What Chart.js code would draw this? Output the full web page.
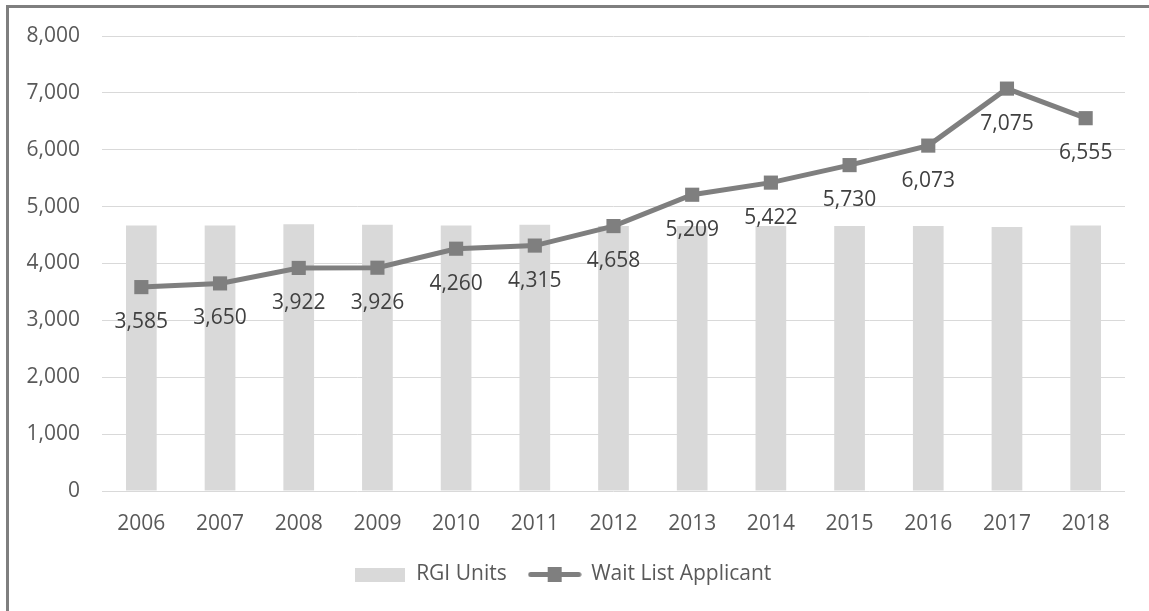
<!DOCTYPE html>
<html>
<head>
<meta charset="utf-8">
<script src="https://cdn.jsdelivr.net/npm/chart.js@4.4.1/dist/chart.umd.min.js"></script>
<style>
  body { margin: 0; background: #fff; }
  #wrap { position: relative; width: 1149px; height: 611px; }
  #frame { position: absolute; left: 6px; top: 5px; right: 0; bottom: 0;
           border-left: 3px solid #7f7f7f; border-top: 3px solid #7f7f7f; pointer-events: none; }
</style>
</head>
<body>
<div id="wrap">
  <canvas id="waitChart"></canvas>
  <div id="frame"></div>
</div>
<script>
// Wait list vs RGI units, 2006-2018
const years = ['2006', '2007', '2008', '2009', '2010', '2011', '2012', '2013', '2014', '2015', '2016', '2017', '2018'];
const rgiUnits = [4670, 4670, 4690, 4680, 4670, 4680, 4660, 4660, 4660, 4660, 4660, 4640, 4670];
const waitList = [3585, 3650, 3922, 3926, 4260, 4315, 4658, 5209, 5422, 5730, 6073, 7075, 6555];
const yTicks = [0, 1000, 2000, 3000, 4000, 5000, 6000, 7000, 8000];

const fontFamily = '"Open Sans", sans-serif';
const fontSize = 21;

// legend icons, Excel style
function barIcon() {
    const c = document.createElement('canvas');
    c.width = 50; c.height = 14;
    const g = c.getContext('2d');
    g.fillStyle = '#d9d9d9';
    g.fillRect(0, 0, 50, 14);
    return c;
}
function lineIcon() {
    const c = document.createElement('canvas');
    c.width = 54; c.height = 15;
    const g = c.getContext('2d');
    g.strokeStyle = '#7f7f7f';
    g.lineWidth = 5;
    g.lineCap = 'round';
    g.beginPath(); g.moveTo(3, 7.5); g.lineTo(51, 7.5); g.stroke();
    g.fillStyle = '#7f7f7f';
    g.fillRect(20, 0, 14, 15);
    return c;
}
const icons = [barIcon(), lineIcon()];

// value labels under the line points
const pointLabels = {
    id: 'pointLabels',
    afterDatasetsDraw(chart) {
        const meta = chart.getDatasetMeta(1);
        const ctx = chart.ctx;
        ctx.save();
        ctx.font = fontSize + 'px ' + fontFamily;
        ctx.fillStyle = '#404040';
        ctx.textAlign = 'center';
        ctx.textBaseline = 'middle';
        meta.data.forEach((pt, i) => {
            ctx.fillText(waitList[i].toLocaleString('en-US'), pt.x, pt.y + 35);
        });
        ctx.restore();
    }
};

const ctx = document.getElementById('waitChart').getContext('2d');
const waitChart = new Chart(ctx, {
    data: {
        labels: years,
        datasets: [{
            type: 'bar',
            label: 'RGI Units',
            data: rgiUnits,
            backgroundColor: '#d9d9d9',
            barPercentage: 0.78,
            categoryPercentage: 0.5,
            order: 2
        }, {
            type: 'line',
            label: 'Wait List Applicant',
            data: waitList,
            borderColor: '#7f7f7f',
            backgroundColor: '#7f7f7f',
            borderWidth: 5,
            pointStyle: 'rect',
            pointRadius: 10,
            pointBorderWidth: 0,
            tension: 0,
            order: 1
        }]
    },
    options: {
        responsive: true,
        maintainAspectRatio: false,
        animation: false,
        layout: { padding: { top: 36, right: 24, left: 0, bottom: 16 } },
        plugins: {
            tooltip: { enabled: false },
            legend: {
                position: 'bottom',
                labels: {
                    usePointStyle: true,
                    pointStyleWidth: 52,
                    padding: 22,
                    color: '#595959',
                    font: { family: fontFamily, size: fontSize },
                    generateLabels: chart => chart.data.datasets.map((ds, i) => ({
                        text: ds.label,
                        pointStyle: icons[i],
                        datasetIndex: i,
                        fontColor: '#595959',
                        hidden: false,
                        lineWidth: 0
                    }))
                }
            }
        },
        scales: {
            x: {
                grid: { display: false },
                border: { display: false },
                ticks: { color: '#595959', padding: 12, font: { family: fontFamily, size: fontSize } },
                afterFit: scale => { scale.height = 51; }
            },
            y: {
                min: 0,
                max: 8000,
                afterBuildTicks: scale => { scale.ticks = yTicks.map(v => ({ value: v })); },
                grid: { color: '#d9d9d9', lineWidth: 1, drawTicks: false },
                border: { display: false },
                ticks: {
                    color: '#595959',
                    padding: 22,
                    font: { family: fontFamily, size: fontSize },
                    callback: v => v.toLocaleString('en-US')
                },
                afterFit: scale => { scale.width = 102; }
            }
        }
    },
    plugins: [pointLabels]
});
</script>
</body>
</html>
